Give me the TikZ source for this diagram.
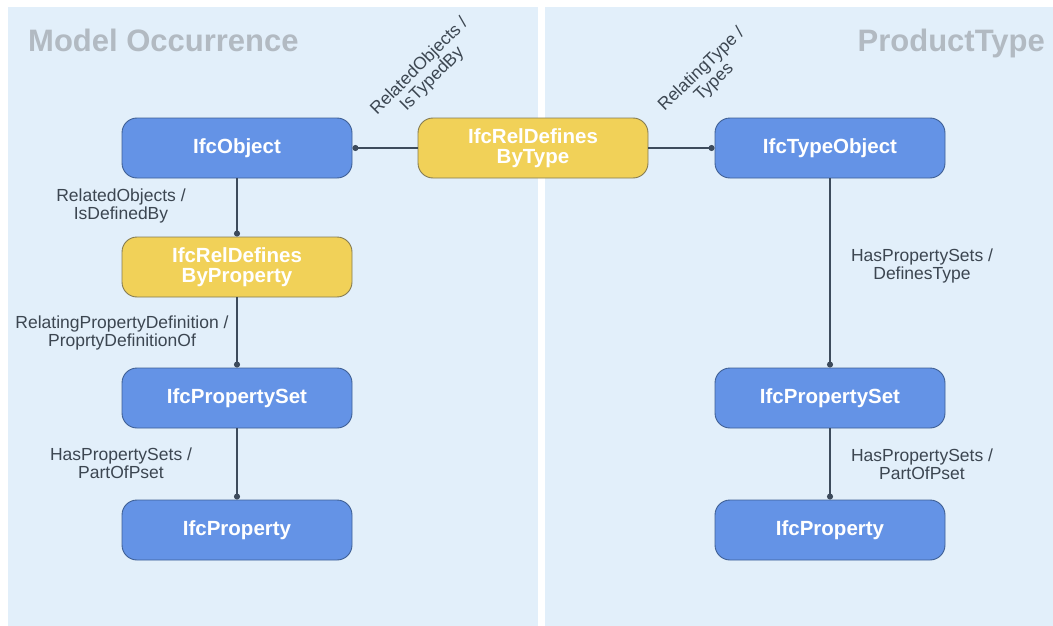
\documentclass[tikz,border=0pt]{standalone}
\usepackage{fontspec}
\setmainfont{Liberation Sans}
\usetikzlibrary{arrows.meta}

\definecolor{panelbg}{HTML}{E2EFFA}
\definecolor{titlecol}{HTML}{B2BAC2}
\definecolor{bluefill}{HTML}{6493E6}
\definecolor{blueedge}{HTML}{3E5F94}
\definecolor{yellowfill}{HTML}{F1D158}
\definecolor{yellowedge}{HTML}{857B52}
\definecolor{linecol}{HTML}{3D4B5C}
\definecolor{labelcol}{HTML}{3C4651}

\tikzset{
  entity/.style={draw=blueedge, fill=bluefill, rounded corners=15pt,
    minimum width=230pt, minimum height=60pt, inner sep=0pt,
    text=white, align=center, line width=0.9pt,
    font=\bfseries\fontsize{20.5}{20}\selectfont},
  relation/.style={entity, draw=yellowedge, fill=yellowfill},
  rel/.style={draw=linecol, line width=1.1pt,
    -{Circle[length=6pt, width=6pt]}},
  lbl/.style={text=labelcol, align=center, inner sep=0pt,
    font=\fontsize{17.5}{18}\selectfont},
  paneltitle/.style={text=titlecol, inner sep=0pt,
    font=\bfseries\fontsize{31}{31}\selectfont}
}

\begin{document}
\begin{tikzpicture}[x=1pt, y=-1pt]
  \useasboundingbox (0,0) rectangle (1053,626);
  \fill[white] (0,0) rectangle (1053,626);

  % two background panels
  \fill[panelbg] (8,7) rectangle (538,626);
  \fill[panelbg] (545,7) rectangle (1053,626);

  \node[paneltitle, anchor=base west] (tleft) at (28,52) {Model Occurrence};
  \node[paneltitle, anchor=base east] (tright) at (1045,52) {ProductType};

  % occurrence side
  \node[entity]   (obj) at (237,148) {IfcObject};
  \node[relation] (rdp) at (237,267) {IfcRelDefines\\ByProperty};
  \node[entity]   (psL) at (237,398) {IfcPropertySet};
  \node[entity]   (prL) at (237,530) {IfcProperty};

  % typing relation between the two sides
  \node[relation] (rdt) at (533,148) {IfcRelDefines\\ByType};

  % type side
  \node[entity] (tobj) at (830,148) {IfcTypeObject};
  \node[entity] (psR)  at (830,398) {IfcPropertySet};
  \node[entity] (prR)  at (830,530) {IfcProperty};

  % connectors
  \draw[rel] (obj) -- (rdp);
  \draw[rel] (rdp) -- (psL);
  \draw[rel] (psL) -- (prL);
  \draw[rel] (rdt) -- (obj);
  \draw[rel] (rdt) -- (tobj);
  \draw[rel] (tobj) -- (psR);
  \draw[rel] (psR) -- (prR);

  % relationship labels
  \node[lbl] (l1) at (121,206) {RelatedObjects /\\IsDefinedBy};
  \node[lbl] (l2) at (122,333) {RelatingPropertyDefinition /\\ProprtyDefinitionOf};
  \node[lbl] (l3) at (121,463) {HasPropertySets /\\PartOfPset};
  \node[lbl] (l4) at (922,266) {HasPropertySets /\\DefinesType};
  \node[lbl] (l5) at (922,464) {HasPropertySets /\\PartOfPset};
  \node[lbl, rotate=45] (l6) at (426,73) {RelatedObjects /\\IsTypedBy};
  \node[lbl, rotate=44] (l7) at (708,76) {RelatingType /\\Types};
\end{tikzpicture}
\end{document}
